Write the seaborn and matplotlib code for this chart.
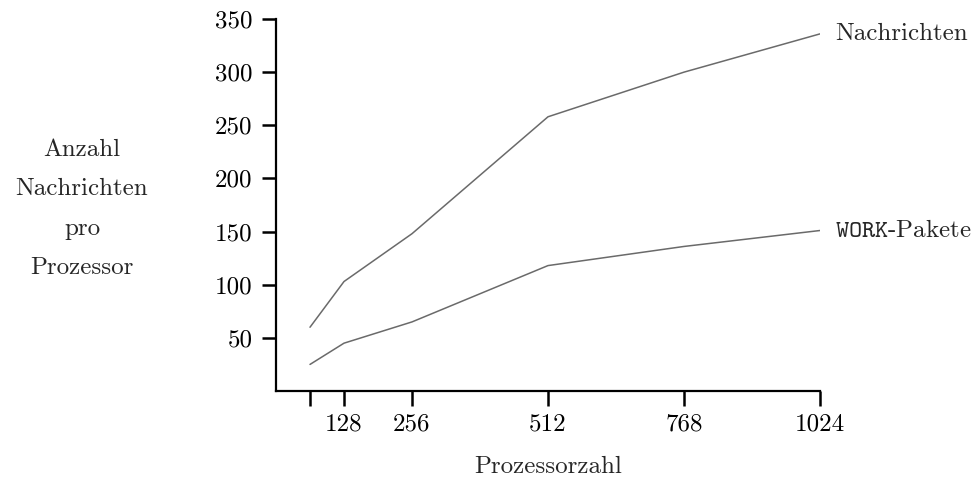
import matplotlib
matplotlib.use("Agg")
import matplotlib.pyplot as plt
import seaborn as sns
import pandas as pd

# data
prozessoren = [64, 128, 256, 512, 768, 1024]
nachrichten = [60, 103, 148, 258, 300, 336]
work_pakete = [25, 45, 65, 118, 136, 151]
x_ticks = [64, 128, 256, 512, 768, 1024]
x_tick_labels = ["", "128", "256", "512", "768", "1024"]
y_ticks = [50, 100, 150, 200, 250, 300, 350]

sns.set_style("white")
plt.rcParams["font.family"] = ["cmr10", "DejaVu Serif"]
plt.rcParams["mathtext.fontset"] = "cm"
plt.rcParams["axes.formatter.use_mathtext"] = True

df = pd.DataFrame({
    "Prozessorzahl": prozessoren * 2,
    "Anzahl": nachrichten + work_pakete,
    "Serie": ["Nachrichten"] * len(prozessoren) + ["WORK"] * len(prozessoren),
})

fig = plt.figure(figsize=(9.79, 4.84), dpi=100)
ax = fig.add_axes([276 / 979, 1 - 391 / 484, (820 - 276) / 979, (391 - 19) / 484])

sns.lineplot(data=df, x="Prozessorzahl", y="Anzahl", hue="Serie",
             palette=["#6a6a6a", "#6a6a6a"], linewidth=1.1, legend=False, ax=ax)

ax.set_xlim(0, 1024)
ax.set_ylim(0, 350)
ax.set_xticks(x_ticks)
ax.set_xticklabels(x_tick_labels)
ax.set_yticks(y_ticks)
ax.set_yticklabels([str(v) for v in y_ticks])
ax.set_xlabel("")
ax.set_ylabel("")
sns.despine(ax=ax)
for s in ["left", "bottom"]:
    ax.spines[s].set_linewidth(1.6)
    ax.spines[s].set_color("black")
ax.tick_params(axis="x", bottom=True, direction="out", length=11, width=1.8, pad=5,
               labelsize=18, colors="black")
ax.tick_params(axis="y", left=True, direction="out", length=10, width=1.8, pad=7,
               labelsize=18, colors="black")

ax.text(1.028, 336, "Nachrichten", transform=ax.get_yaxis_transform(),
        va="center", ha="left", fontsize=18)
ax.text(1.028, 151, r"$\mathtt{WORK}$-Pakete", transform=ax.get_yaxis_transform(),
        va="center", ha="left", fontsize=18)

fig.text(82 / 979, 1 - 209 / 484, "Anzahl\nNachrichten\npro\nProzessor",
         ha="center", va="center", fontsize=18, linespacing=2.0)
fig.text(548 / 979, 1 - 467 / 484, "Prozessorzahl", ha="center", va="center", fontsize=18)

fig.savefig("out.png", dpi=100)
